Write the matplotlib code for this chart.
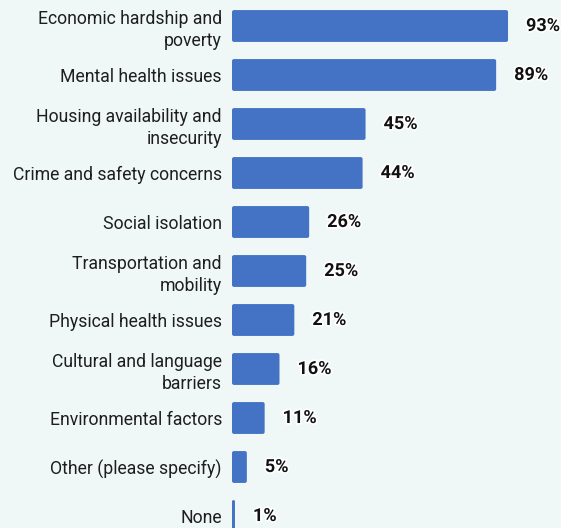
import matplotlib
matplotlib.use("Agg")
import matplotlib.pyplot as plt
from matplotlib.patches import FancyBboxPatch
import matplotlib.patheffects as pe

categories = [
    "Economic hardship and\npoverty",
    "Mental health issues",
    "Housing availability and\ninsecurity",
    "Crime and safety concerns",
    "Social isolation",
    "Transportation and\nmobility",
    "Physical health issues",
    "Cultural and language\nbarriers",
    "Environmental factors",
    "Other (please specify)",
    "None",
]
values = [93, 89, 45, 44, 26, 25, 21, 16, 11, 5, 1]
value_labels = ["93%", "89%", "45%", "44%", "26%", "25%", "21%", "16%", "11%", "5%", "1%"]

BG = "#eff8f7"
BAR = "#4472c4"
W, H = 561, 528

plt.rcParams["font.family"] = ["Roboto", "DejaVu Sans"]

fig = plt.figure(figsize=(W / 100, H / 100), dpi=100, facecolor=BG)
ax = fig.add_axes([232 / W, 0, 1 - 232 / W, 1], facecolor=BG)

px_per_unit = 2.968
step = 49.0
ax.set_xlim(0, (W - 232) / px_per_unit)
ax.set_ylim((H - 26) / step, -26 / step)

bars = ax.barh(range(len(values)), values, height=0.65, color=BAR)

# replace plain rectangles with slightly rounded ones
r_x = 2.0 / px_per_unit
aspect = (1 / step) / (1 / px_per_unit)
for b in bars:
    x, y, w, h = b.get_x(), b.get_y(), b.get_width(), b.get_height()
    b.set_visible(False)
    rs = min(r_x, w / 2)
    p = FancyBboxPatch((x, y), w, h,
                       boxstyle=f"round,pad=0,rounding_size={rs}",
                       mutation_aspect=aspect,
                       facecolor=BAR, edgecolor="none")
    ax.add_patch(p)

for i, (v, lab) in enumerate(zip(values, value_labels)):
    ax.text(v + 18 / px_per_unit, i, lab, va="center", ha="left",
            fontsize=13, fontweight="bold", color="#111111",
            path_effects=[pe.withStroke(linewidth=2.5, foreground="white")])

ax.set_yticks(range(len(categories)))
ax.set_yticklabels(categories, fontsize=12.7, color="#1e1e1e", linespacing=1.25)
ax.tick_params(axis="y", length=0, pad=7.2)
ax.set_xticks([])
for s in ax.spines.values():
    s.set_visible(False)

fig.savefig("out.png", dpi=100, facecolor=BG)
